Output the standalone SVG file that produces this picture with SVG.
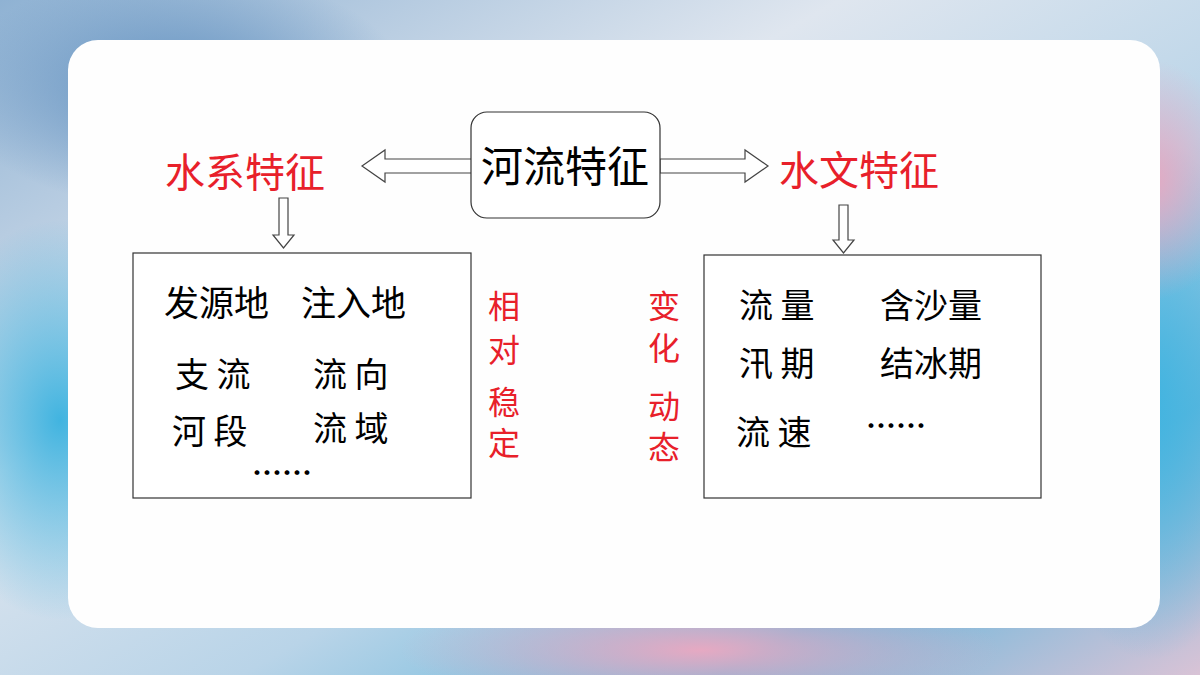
<svg xmlns="http://www.w3.org/2000/svg" width="1200" height="675" viewBox="0 0 1200 675">
<defs>
<linearGradient id="bg" x1="0" y1="0" x2="1" y2="1">
<stop offset="0" stop-color="#8fb2d3"/><stop offset="0.35" stop-color="#dfe6ef"/><stop offset="0.6" stop-color="#b9d4e8"/><stop offset="0.8" stop-color="#6ab8dc"/><stop offset="1" stop-color="#d9c3d6"/>
</linearGradient>
<radialGradient id="blot" cx="0.5" cy="0.5" r="0.5"><stop offset="0" stop-color="#5f8fbf"/><stop offset="1" stop-color="#5f8fbf" stop-opacity="0"/></radialGradient>
<radialGradient id="blot2" cx="0.5" cy="0.5" r="0.5"><stop offset="0" stop-color="#41b4e0"/><stop offset="1" stop-color="#41b4e0" stop-opacity="0"/></radialGradient>
<radialGradient id="pink" cx="0.5" cy="0.5" r="0.5"><stop offset="0" stop-color="#e6a9c2"/><stop offset="1" stop-color="#e6a9c2" stop-opacity="0"/></radialGradient>
<style>
.t{font-family:"Noto Sans CJK SC","Noto Sans",sans-serif;fill:#000}
.r{font-family:"Noto Sans CJK SC","Noto Sans",sans-serif;fill:#e8202a}
.box{fill:#fff;stroke:#333;stroke-width:1.2}
.ar{fill:#fff;stroke:#444;stroke-width:1.2}
</style>
</defs>
<rect width="1200" height="675" fill="url(#bg)"/>
<ellipse cx="180" cy="90" rx="230" ry="120" fill="url(#blot)"/>
<ellipse cx="60" cy="420" rx="140" ry="200" fill="url(#blot2)"/>
<ellipse cx="1150" cy="400" rx="120" ry="260" fill="url(#blot2)"/>
<ellipse cx="1150" cy="180" rx="90" ry="120" fill="url(#pink)"/>
<ellipse cx="700" cy="650" rx="300" ry="60" fill="url(#pink)"/>
<rect x="68" y="40" width="1092" height="588" rx="30" fill="#fefefe"/>
<g id="connectors">
<polygon class="ar" points="472,159 385,159 385,150 362,166 385,182 385,173 472,173"/>
<polygon class="ar" points="660,159 745,159 745,150 768,166 745,182 745,173 660,173"/>
<polygon class="ar" points="279,198 288,198 288,235 294,235 283.5,248 273,235 279,235"/>
<polygon class="ar" points="839,205 848,205 848,240 854,240 843.5,253 833,240 839,240"/>
</g>
<g id="center"><rect class="box" x="471" y="112" width="189" height="106" rx="16"/><text class="t" x="565" y="182" font-size="42" text-anchor="middle">河流特征</text></g>
<g id="sx"><text class="r" x="245" y="187" font-size="40" text-anchor="middle">水系特征</text></g>
<g id="swt"><text class="r" x="859" y="185" font-size="40" text-anchor="middle">水文特征</text></g>
<g id="leftbox"><rect class="box" x="133" y="253" width="338" height="245"/>
<text class="t" font-size="35" x="164" y="316">发源地</text><text class="t" font-size="35" x="301" y="316">注入地</text>
<text class="t" font-size="34" x="175" y="387">支 流</text><text class="t" font-size="34" x="313" y="387">流 向</text>
<text class="t" font-size="34" x="172" y="444">河 段</text><text class="t" font-size="34" x="313" y="441">流 域</text>
<text class="t" font-size="30" x="252" y="484" font-weight="bold">……</text></g>
<g id="rightbox"><rect class="box" x="704" y="255" width="337" height="243"/>
<text class="t" font-size="34" x="739" y="318">流 量</text><text class="t" font-size="34" x="880" y="318">含沙量</text>
<text class="t" font-size="34" x="739" y="376">汛 期</text><text class="t" font-size="34" x="880" y="376">结冰期</text>
<text class="t" font-size="34" x="736" y="445">流 速</text>
<text class="t" font-size="30" x="866" y="437" font-weight="bold">……</text></g>
<g id="rel"><text class="r" font-size="32" x="504" y="318" text-anchor="middle">相</text><text class="r" font-size="32" x="504" y="362" text-anchor="middle">对</text><text class="r" font-size="32" x="504" y="414" text-anchor="middle">稳</text><text class="r" font-size="32" x="504" y="455" text-anchor="middle">定</text></g>
<g id="dyn"><text class="r" font-size="32" x="664" y="318" text-anchor="middle">变</text><text class="r" font-size="32" x="664" y="360" text-anchor="middle">化</text><text class="r" font-size="32" x="664" y="418" text-anchor="middle">动</text><text class="r" font-size="32" x="664" y="459" text-anchor="middle">态</text></g>
</svg>
